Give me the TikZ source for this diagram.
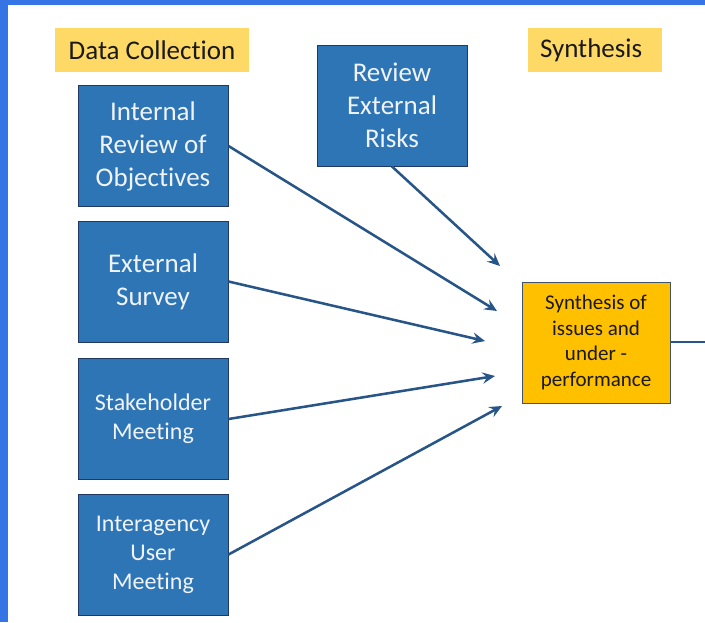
\documentclass[tikz,border=0pt]{standalone}
\usepackage{fontspec}
\setmainfont[Ligatures=NoCommon]{Carlito}
\usetikzlibrary{arrows.meta}
\definecolor{framecol}{RGB}{53,116,228}
\definecolor{boxblue}{RGB}{46,117,182}
\definecolor{boxedge}{RGB}{31,56,100}
\definecolor{labelyel}{RGB}{255,217,102}
\definecolor{synyel}{RGB}{255,192,0}
\definecolor{synedge}{RGB}{65,84,110}
\definecolor{arrowcol}{RGB}{40,85,135}
\definecolor{txtwhite}{RGB}{240,244,250}
\tikzset{
  bluebox/.style={draw=boxedge, line width=0.75pt, fill=boxblue, text=txtwhite,
    minimum width=112.5pt, minimum height=90.75pt, inner sep=0pt, align=center,
    font=\fontsize{20.25pt}{24.7pt}\selectfont},
  smallblue/.style={bluebox, font=\fontsize{18pt}{21.8pt}\selectfont},
  headlabel/.style={fill=labelyel, draw=none, minimum height=33pt, inner sep=0pt,
    text=black!90, font=\fontsize{20.25pt}{24.7pt}\selectfont},
  synbox/.style={draw=synedge, line width=0.75pt, fill=synyel, text=black!90,
    minimum width=111pt, minimum height=90.75pt, inner sep=0pt, align=center,
    font=\fontsize{15.75pt}{19.2pt}\selectfont},
  conn/.style={draw=arrowcol, line width=1.9pt,
    -{Stealth[length=9.5pt,width=8.5pt,inset=3.5pt]}},
  plainconn/.style={draw=arrowcol, line width=1.9pt}
}
\begin{document}
\begin{tikzpicture}[x=0.75pt,y=-0.75pt]
\useasboundingbox (0,0) rectangle (705,622);
\fill[white] (0,0) rectangle (705,622);
% frame strips
\fill[framecol] (0,0) rectangle (8,622);
\fill[framecol] (0,0) rectangle (705,5);

% header labels
\node[headlabel, minimum width=145.5pt] (hdc) at (152,50) {Data Collection};
\node[headlabel, minimum width=100.5pt, text width=82.5pt, inner xsep=9pt, align=left] (hsyn) at (595,50) {Synthesis};

% blue boxes
\node[bluebox] (irev) at (153,146) {Internal\\Review of\\Objectives};
\node[bluebox] (esur) at (153,281.5) {External\\Survey};
\node[smallblue] (stak) at (153,419) {Stakeholder\\Meeting};
\node[smallblue] (inter) at (153,554.5) {Interagency\\User\\Meeting};
\node[bluebox] (rrisk) at (392,105.5) {Review\\External\\Risks};

% synthesis box
\node[synbox] (syn) at (596,342.5) {Synthesis of\\issues and\\under -\\performance};

% arrow end points
\coordinate (e1) at (500,266);
\coordinate (e2) at (497,311);
\coordinate (e3) at (485,341);
\coordinate (e4) at (495,376);
\coordinate (e5) at (502,406);
\coordinate (outend) at (705,342);

\draw[conn] (rrisk.south) -- (e1);
\draw[conn] (irev.east) -- (e2);
\draw[conn] (esur.east) -- (e3);
\draw[conn] (stak.east) -- (e4);
\draw[conn] (inter.east) -- (e5);
\draw[plainconn] (syn.east |- outend) -- (outend);
\end{tikzpicture}
\end{document}
